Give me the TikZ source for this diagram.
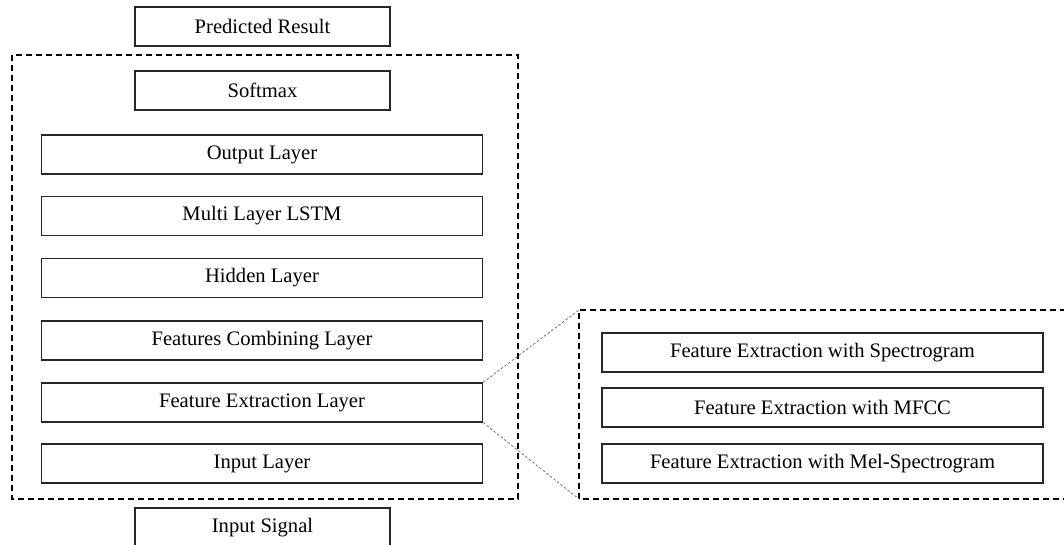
\documentclass[tikz,border=0pt]{standalone}
\usepackage{fontspec}
\setmainfont{Liberation Serif}
\begin{document}
\begin{tikzpicture}[x=1pt,y=-1pt,
  layerbox/.style={draw=black!85, line width=1.2pt, inner sep=0pt,
    minimum height=39pt, font=\fontsize{20.6}{24}\selectfont},
  narrowbox/.style={layerbox, minimum width=255pt},
  widebox/.style={layerbox, minimum width=441pt},
  groupframe/.style={draw=black, line width=1.3pt, dash pattern=on 6pt off 4pt},
  zoomline/.style={draw=black!55, line width=0.8pt, dash pattern=on 2.5pt off 2pt}]
\useasboundingbox (0,0) rectangle (1064,544);

% main network stack
\node[narrowbox] (pred) at (262.5,26.5) {Predicted Result};
\draw[groupframe] (12,55) rectangle (518,499);
\node[narrowbox] (softmax) at (262.5,90.5) {Softmax};
\node[widebox] (output) at (262,154.5) {Output Layer};
\node[widebox] (lstm) at (262,216) {Multi Layer LSTM};
\node[widebox] (hidden) at (262,278) {Hidden Layer};
\node[widebox] (comb) at (262,340.5) {Features Combining Layer};
\node[widebox] (fel) at (262,402.5) {Feature Extraction Layer};
\node[widebox] (input) at (262,463.5) {Input Layer};
\node[narrowbox] (signal) at (262.5,527.5) {Input Signal};

% detail of the feature extraction layer
\coordinate (dtl) at (579,310);
\coordinate (dbl) at (579,499);
\draw[groupframe] (1066,310) -- (dtl) -- (dbl) -- (1066,499);
\node[widebox] (spec) at (822.5,352.5) {Feature Extraction with Spectrogram};
\node[widebox] (mfcc) at (822.5,407.5) {Feature Extraction with MFCC};
\node[widebox] (mel) at (822.5,463.5) {Feature Extraction with Mel-Spectrogram};

\draw[zoomline] (fel.north east) -- (dtl);
\draw[zoomline] (fel.south east) -- (dbl);
\end{tikzpicture}
\end{document}
